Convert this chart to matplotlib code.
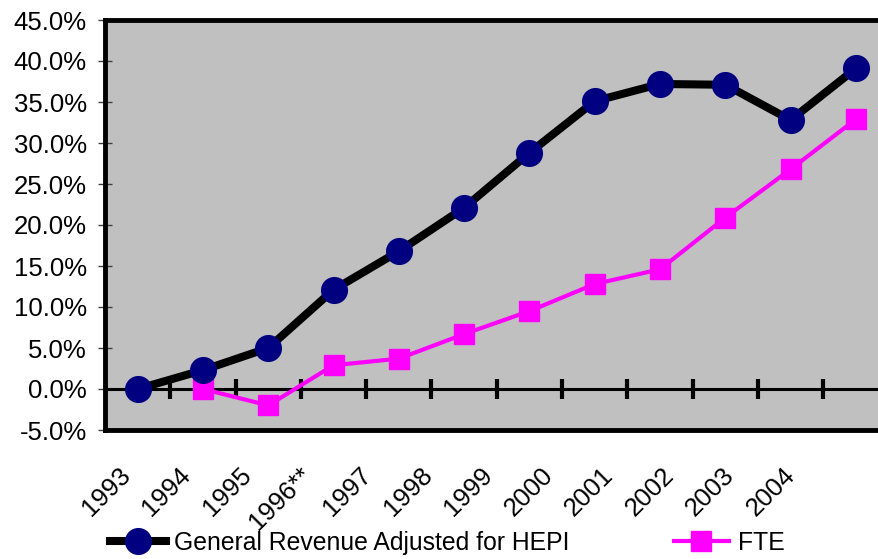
import numpy as np
import matplotlib
matplotlib.use("Agg")
import matplotlib.pyplot as plt
from matplotlib.ticker import PercentFormatter

years = ["1993", "1994", "1995", "1996**", "1997", "1998", "1999",
         "2000", "2001", "2002", "2003", "2004"]
general_revenue = [0.0, 2.3, 5.0, 12.1, 16.8, 22.1, 28.8, 35.1, 37.2, 37.1, 32.8, 39.1]
fte = [np.nan, 0.0, -2.0, 2.9, 3.7, 6.7, 9.5, 12.8, 14.6, 20.9, 26.8, 32.9]

plt.rcParams['font.family'] = ['Liberation Sans', 'DejaVu Sans']
plt.rcParams['axes.unicode_minus'] = False
fs = 17.8
tick_fs = 18.5

fig = plt.figure(figsize=(8.79, 5.59), dpi=100)
ax = fig.add_axes([105 / 879, 1 - 430 / 559, (12 * 65.3) / 879, 410 / 559])
ax.set_facecolor('#C0C0C0')

x = np.arange(len(years))
ax.axhline(0, color='black', lw=2.2, zorder=2)
ax.plot(x[:-1] + 0.5, np.zeros(len(x) - 1), ls='none', marker='|',
        ms=14, mew=3, color='black', zorder=2)

ax.plot(x, general_revenue, color='black', lw=5.8, marker='o', ms=18.5,
        mfc='#000080', mec='#000080', label='General Revenue Adjusted for HEPI', zorder=4)
ax.plot(x, fte, color='#FF00FF', lw=3, marker='s', ms=14.5,
        mfc='#FF00FF', mec='#FF00FF', label='FTE', zorder=3)

ax.set_xlim(-0.5, 11.5)
ax.set_ylim(-5, 45)
ax.set_yticks(np.arange(-5, 46, 5))
ax.yaxis.set_major_formatter(PercentFormatter(decimals=1))
ax.tick_params(axis='y', direction='inout', length=10, width=1, color='#404040',
               labelsize=tick_fs, pad=8)

# category labels sit slightly left of the points, as in the original
label_pos = -0.30 + 0.925 * x
ax.set_xticks(label_pos)
ax.set_xticklabels(years, rotation=45, ha='right', rotation_mode='anchor', fontsize=tick_fs)
ax.tick_params(axis='x', length=0, pad=24)

for side in ['left', 'top', 'bottom']:
    ax.spines[side].set_linewidth(3.5)
    ax.spines[side].set_color('black')
ax.spines['right'].set_visible(False)

fig.legend(loc='center left', bbox_to_anchor=(110 / 879, 1 - 543 / 559),
           ncol=2, frameon=False, fontsize=fs, handlelength=2.25,
           handletextpad=0.35, columnspacing=4.2, borderpad=0, borderaxespad=0,
           numpoints=1)

fig.savefig('out.png', dpi=100)
